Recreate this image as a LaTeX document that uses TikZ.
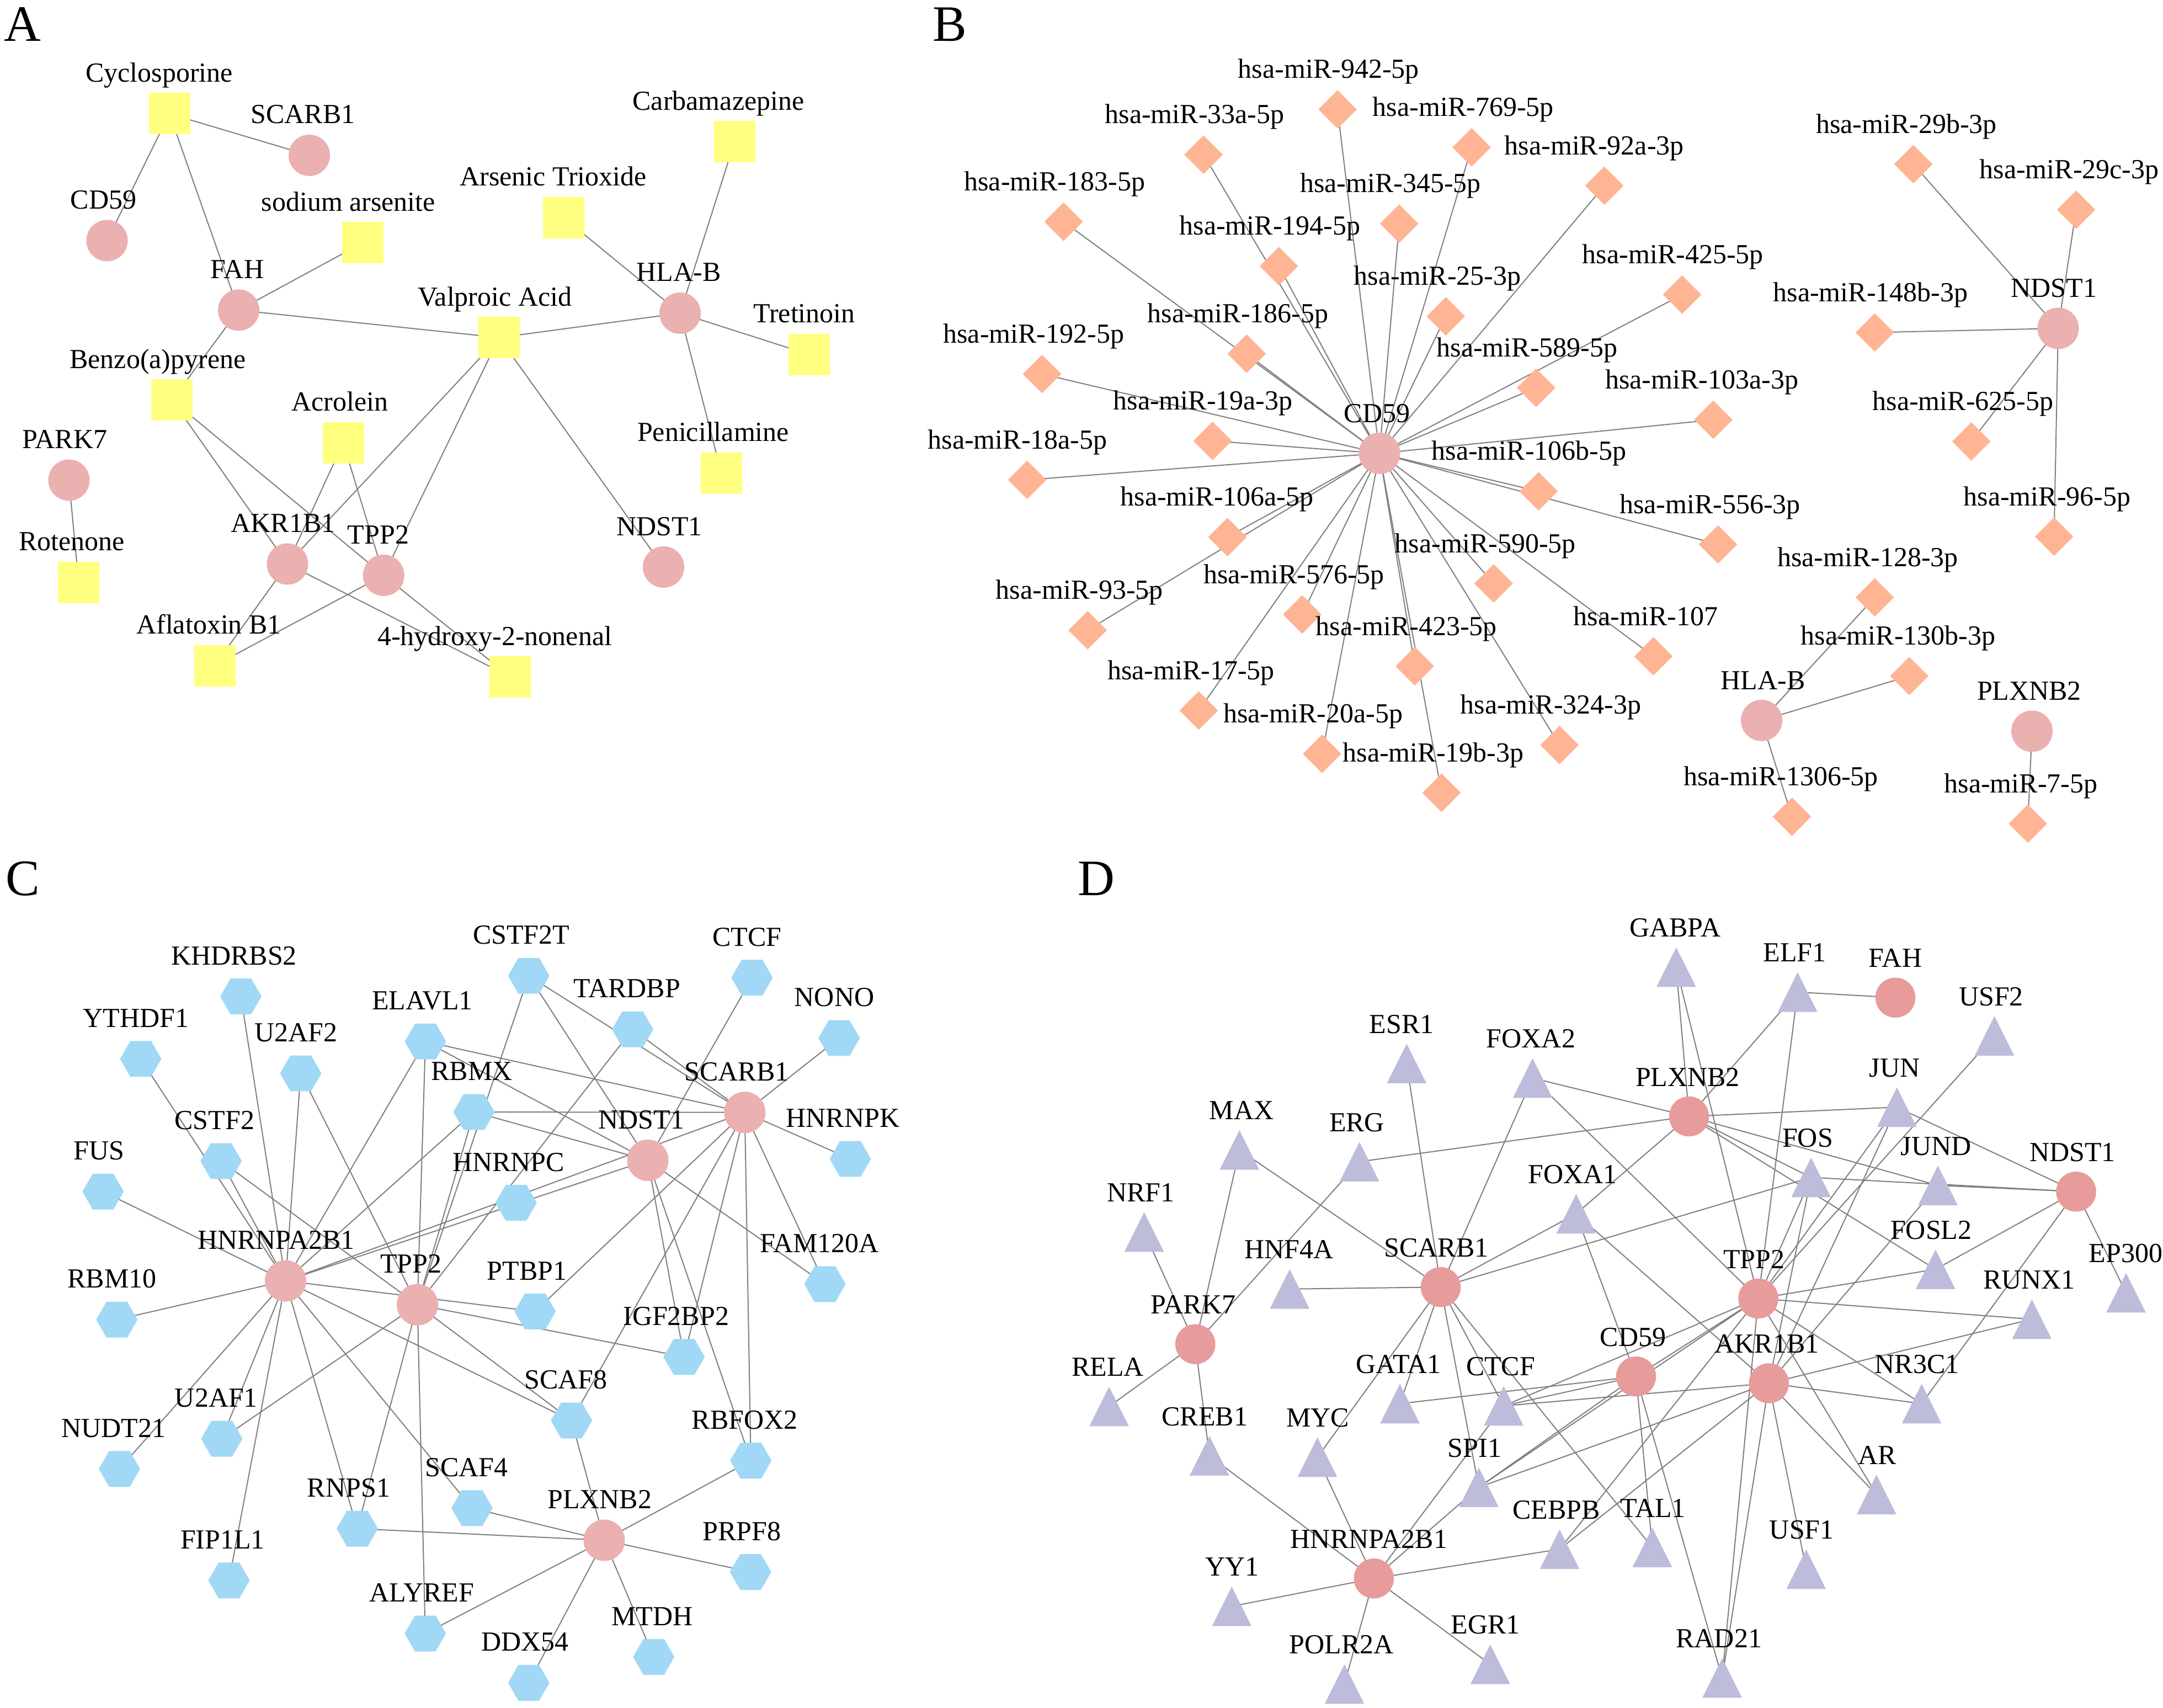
\documentclass[tikz,border=0pt]{standalone}
\usepackage{fontspec}
\setmainfont{Liberation Serif}
\usetikzlibrary{shapes.geometric}
\pgfdeclarelayer{bg}
\pgfdeclarelayer{fg}
\pgfsetlayers{bg,main,fg}
\definecolor{yel}{RGB}{255,255,128}
\definecolor{pk}{RGB}{235,176,176}
\definecolor{sal}{RGB}{255,180,148}
\definecolor{blu}{RGB}{160,216,245}
\definecolor{lav}{RGB}{190,188,219}
\definecolor{pkd}{RGB}{232,155,155}
\definecolor{edg}{RGB}{128,128,128}
\newcommand{\mk}[6]{\node[#1] (#2) at (#3,#4) {};
  \begin{pgfonlayer}{fg}\node[lab] (#2-l) at (#5,#4-\labdy) {#6};\end{pgfonlayer}}
\begin{document}
\begin{tikzpicture}[x=1pt,y=-1pt,
  edge/.style={draw=edg,line width=0.8pt},
  lab/.style={font=\fontsize{20}{24}\selectfont,inner sep=0pt,anchor=base},
  letter/.style={font=\fontsize{37}{40}\selectfont,inner sep=0pt,anchor=base west},
  sq/.style={rectangle,fill=yel,minimum size=30pt,inner sep=0pt},
  ca/.style={circle,fill=pk,minimum size=30pt,inner sep=0pt},
  cd/.style={circle,fill=pkd,minimum size=29pt,inner sep=0pt},
  dm/.style={diamond,fill=sal,minimum width=28pt,minimum height=28pt,inner sep=0pt},
  hx/.style={regular polygon,regular polygon sides=6,fill=blu,minimum size=30pt,inner sep=0pt},
  tn/.style={shape=coordinate}]
\useasboundingbox (0,0) rectangle (1568,1238);
\begin{pgfonlayer}{bg}\fill[white] (0,0) rectangle (1568,1238);\end{pgfonlayer}

% ---------- letters
\node[letter] (LA) at (3,30) {A};
\node[letter] (LB) at (676,30) {B};
\node[letter] (LC) at (4,649) {C};
\node[letter] (LD) at (781,649) {D};

% ---------- Panel A
\def\labdy{23}
\mk{sq}{aCyc}{122.8}{82.4}{115.4}{Cyclosporine}
\mk{ca}{aSCARB1}{224.2}{112.6}{219.6}{SCARB1}
\mk{ca}{aCD59}{77.6}{174.4}{75}{CD59}
\mk{ca}{aFAH}{173}{224.8}{172}{FAH}
\mk{sq}{aNaAs}{263}{176}{252.5}{sodium arsenite}
\mk{sq}{aBaP}{124.7}{290}{114.4}{Benzo(a)pyrene}
\mk{ca}{aPARK7}{50}{348}{47}{PARK7}
\mk{sq}{aRot}{57}{422}{52}{Rotenone}
\mk{sq}{aAcr}{248.8}{321}{246.4}{Acrolein}
\mk{ca}{aAKR}{208.4}{408.8}{205.3}{AKR1B1}
\mk{ca}{aTPP2}{278.1}{417}{274.2}{TPP2}
\mk{sq}{aAfl}{155.6}{482.4}{151.4}{Aflatoxin B1}
\mk{sq}{aHNE}{369.9}{490.6}{358.7}{4-hydroxy-2-nonenal}
\mk{sq}{aVPA}{361.8}{244.7}{358.7}{Valproic Acid}
\mk{sq}{aAsO}{408.6}{157.7}{401}{Arsenic Trioxide}
\mk{sq}{aCBZ}{532.5}{102.7}{520.8}{Carbamazepine}
\mk{ca}{aHLAB}{493}{227}{492}{HLA-B}
\mk{sq}{aTret}{586.5}{256.9}{583}{Tretinoin}
\mk{sq}{aPen}{523}{343}{517}{Penicillamine}
\mk{ca}{aNDST1}{481}{411}{478}{NDST1}

\begin{pgfonlayer}{bg}
\foreach \a/\b in {aCyc/aSCARB1,aCyc/aCD59,aCyc/aFAH,aFAH/aNaAs,aFAH/aBaP,aFAH/aVPA,
  aBaP/aAKR,aBaP/aTPP2,aAcr/aAKR,aAcr/aTPP2,aVPA/aAKR,aVPA/aTPP2,aVPA/aNDST1,aVPA/aHLAB,
  aAKR/aAfl,aTPP2/aAfl,aAKR/aHNE,aTPP2/aHNE,aHLAB/aAsO,aHLAB/aCBZ,aHLAB/aTret,aHLAB/aPen,
  aPARK7/aRot}
  \draw[edge] (\a.center) -- (\b.center);
\end{pgfonlayer}

% ---------- Panel B
\def\labdy{22.5}
\mk{dm}{b942}{969.6}{79.3}{963.1}{hsa-miR-942-5p}
\mk{dm}{b33a}{872.5}{112.1}{866}{hsa-miR-33a-5p}
\mk{dm}{b769}{1066.8}{106.8}{1060.7}{hsa-miR-769-5p}
\mk{dm}{b92a}{1163}{134.6}{1155.7}{hsa-miR-92a-3p}
\mk{dm}{b183}{771}{160.7}{764.5}{hsa-miR-183-5p}
\mk{dm}{b345}{1014.3}{162.1}{1008}{hsa-miR-345-5p}
\mk{dm}{b194}{927.1}{192.9}{920.6}{hsa-miR-194-5p}
\mk{dm}{b25}{1048.1}{229.3}{1042}{hsa-miR-25-3p}
\mk{dm}{b425}{1219.4}{213.6}{1212.7}{hsa-miR-425-5p}
\mk{dm}{b186}{903.7}{256.4}{897.4}{hsa-miR-186-5p}
\mk{dm}{b192}{755.4}{271.1}{749.3}{hsa-miR-192-5p}
\mk{dm}{b589}{1113.6}{281.1}{1107}{hsa-miR-589-5p}
\mk{dm}{b103a}{1242}{304.3}{1233.7}{hsa-miR-103a-3p}
\mk{dm}{b19a}{879}{319.6}{872}{hsa-miR-19a-3p}
\mk{ca}{bCD59}{1000}{328.6}{998.2}{CD59}
\mk{dm}{b18a}{744.6}{347.8}{737.6}{hsa-miR-18a-5p}
\mk{dm}{b106b}{1115.3}{356.1}{1108.4}{hsa-miR-106b-5p}
\mk{dm}{b106a}{889.8}{389.3}{882.2}{hsa-miR-106a-5p}
\mk{dm}{b556}{1245.4}{394.6}{1239.6}{hsa-miR-556-3p}
\mk{dm}{b590}{1082.8}{422.9}{1076.7}{hsa-miR-590-5p}
\mk{dm}{b93}{788.4}{456.8}{782.5}{hsa-miR-93-5p}
\mk{dm}{b576}{944}{445.4}{938}{hsa-miR-576-5p}
\mk{dm}{b107}{1198.6}{475.7}{1193}{hsa-miR-107}
\mk{dm}{b423}{1025.6}{482.9}{1019.5}{hsa-miR-423-5p}
\mk{dm}{b17}{869}{515}{863.4}{hsa-miR-17-5p}
\mk{dm}{b324}{1130.5}{540}{1124.2}{hsa-miR-324-3p}
\mk{dm}{b20a}{958.4}{546.4}{951.8}{hsa-miR-20a-5p}
\mk{dm}{b19b}{1045}{574.6}{1039}{hsa-miR-19b-3p}
\mk{ca}{bHLAB}{1277}{522.2}{1278}{HLA-B}
\mk{dm}{b29b}{1387}{119}{1382}{hsa-miR-29b-3p}
\mk{dm}{b29c}{1505}{152}{1500}{hsa-miR-29c-3p}
\mk{dm}{b148b}{1359}{241}{1356}{hsa-miR-148b-3p}
\mk{ca}{bNDST1}{1492}{238}{1489}{NDST1}
\mk{dm}{b625}{1429}{320}{1423}{hsa-miR-625-5p}
\mk{dm}{b96}{1489}{389}{1484}{hsa-miR-96-5p}
\mk{dm}{b128}{1359}{433}{1354}{hsa-miR-128-3p}
\mk{dm}{b130b}{1384}{490}{1376}{hsa-miR-130b-3p}
\mk{ca}{bPLXNB2}{1473}{530}{1471}{PLXNB2}
\mk{dm}{b1306}{1299}{592}{1291}{hsa-miR-1306-5p}
\mk{dm}{b7}{1470}{597}{1465}{hsa-miR-7-5p}

\begin{pgfonlayer}{bg}
\foreach \m in {b942,b33a,b769,b92a,b183,b345,b194,b25,b425,b186,b192,b589,b103a,b19a,
  b18a,b106b,b106a,b556,b590,b93,b576,b107,b423,b17,b324,b20a,b19b}
  \draw[edge] (bCD59.center) -- (\m.center);
\foreach \m in {b29b,b29c,b148b,b625,b96}
  \draw[edge] (bNDST1.center) -- (\m.center);
\foreach \m in {b128,b130b,b1306}
  \draw[edge] (bHLAB.center) -- (\m.center);
\draw[edge] (bPLXNB2.center) -- (b7.center);
\end{pgfonlayer}

% ---------- Panel C
\def\labdy{23}
\mk{hx}{cKHD}{174.6}{722.2}{169.6}{KHDRBS2}
\mk{hx}{cYTH}{102}{767.5}{98.6}{YTHDF1}
\mk{hx}{cU2AF2}{218}{778}{214.6}{U2AF2}
\mk{hx}{cELAVL1}{308.4}{754.9}{306.2}{ELAVL1}
\mk{hx}{cRBMX}{343.6}{806}{342}{RBMX}
\mk{hx}{cCSTF2}{160.3}{841.6}{155.5}{CSTF2}
\mk{hx}{cFUS}{74.7}{863.7}{71.8}{FUS}
\mk{ca}{cHNRNPA}{207}{928.4}{200.2}{HNRNPA2B1}
\mk{ca}{cTPP2}{302.6}{945.7}{298}{TPP2}
\mk{hx}{cRBM10}{84.7}{956.5}{81.2}{RBM10}
\mk{hx}{cCSTF2T}{383.3}{707.3}{377.9}{CSTF2T}
\mk{hx}{cCTCF}{545.2}{708.6}{541.5}{CTCF}
\mk{hx}{cTARDBP}{458.6}{746.1}{454.5}{TARDBP}
\mk{hx}{cNONO}{608.3}{752.4}{604.8}{NONO}
\mk{ca}{cSCARB1}{539.9}{806.3}{534}{SCARB1}
\mk{ca}{cNDST1}{469.6}{841}{465}{NDST1}
\mk{hx}{cHNRNPK}{616.4}{840}{611}{HNRNPK}
\mk{hx}{cHNRNPC}{374.1}{871.8}{368.7}{HNRNPC}
\mk{hx}{cFAM}{598}{930.8}{594}{FAM120A}
\mk{hx}{cPTBP1}{387.9}{950.6}{382}{PTBP1}
\mk{hx}{cIGF}{495.9}{983.5}{490.1}{IGF2BP2}
\mk{hx}{cSCAF8}{414.3}{1029.6}{410.1}{SCAF8}
\mk{hx}{cRBFOX2}{544.3}{1058.7}{539.8}{RBFOX2}
\mk{hx}{cSCAF4}{342.2}{1093.1}{338.1}{SCAF4}
\mk{ca}{cPLXNB2}{438}{1116.4}{434.7}{PLXNB2}
\mk{hx}{cPRPF8}{544.1}{1139.4}{537.8}{PRPF8}
\mk{hx}{cALYREF}{308.3}{1184}{305.7}{ALYREF}
\mk{hx}{cMTDH}{473.9}{1201}{472.8}{MTDH}
\mk{hx}{cDDX54}{383.3}{1219.7}{380.6}{DDX54}
\mk{hx}{cU2AF1}{160.8}{1042.8}{156.8}{U2AF1}
\mk{hx}{cNUDT21}{86.6}{1064.7}{82.3}{NUDT21}
\mk{hx}{cRNPS1}{259}{1108}{252.8}{RNPS1}
\mk{hx}{cFIP1L1}{166}{1145.5}{161.4}{FIP1L1}

\begin{pgfonlayer}{bg}
\foreach \m in {cKHD,cYTH,cU2AF2,cELAVL1,cRBMX,cCSTF2,cFUS,cRBM10,cNUDT21,cU2AF1,cFIP1L1,
  cRNPS1,cSCAF4,cSCAF8,cPTBP1,cNDST1,cSCARB1}
  \draw[edge] (cHNRNPA.center) -- (\m.center);
\foreach \m in {cU2AF2,cELAVL1,cRBMX,cCSTF2T,cCSTF2,cTARDBP,cIGF,cSCAF8,cU2AF1,cRNPS1,cALYREF}
  \draw[edge] (cTPP2.center) -- (\m.center);
\foreach \m in {cCSTF2T,cRBMX,cELAVL1,cCTCF,cFAM,cIGF,cRBFOX2}
  \draw[edge] (cNDST1.center) -- (\m.center);
\foreach \m in {cELAVL1,cRBMX,cCSTF2T,cTARDBP,cNONO,cHNRNPK,cFAM,cRBFOX2,cIGF,cSCAF8,cPTBP1}
  \draw[edge] (cSCARB1.center) -- (\m.center);
\foreach \m in {cSCAF8,cSCAF4,cRNPS1,cALYREF,cDDX54,cMTDH,cPRPF8,cRBFOX2}
  \draw[edge] (cPLXNB2.center) -- (\m.center);
\end{pgfonlayer}

% ---------- Panel D
\def\labdy{22}
\mk{tn}{dGABPA}{1215.1}{701}{1214.3}{GABPA}
\mk{tn}{dELF1}{1303.1}{719.1}{1301}{ELF1}
\mk{cd}{dFAH}{1374}{723.1}{1374}{FAH}
\mk{tn}{dUSF2}{1445.8}{750.8}{1443.4}{USF2}
\mk{tn}{dESR1}{1019.7}{770.8}{1016}{ESR1}
\mk{tn}{dFOXA2}{1111}{781.4}{1109.8}{FOXA2}
\mk{cd}{dPLXNB2}{1224.4}{809.2}{1223.4}{PLXNB2}
\mk{tn}{dJUN}{1375.1}{802.5}{1373.5}{JUN}
\mk{tn}{dMAX}{898.5}{833.5}{900}{MAX}
\mk{tn}{dERG}{985.5}{842}{983.6}{ERG}
\mk{tn}{dFOS}{1312.9}{853.4}{1310.4}{FOS}
\mk{tn}{dJUND}{1404.8}{859.2}{1403.4}{JUND}
\mk{cd}{dNDST1}{1505}{863.7}{1502.3}{NDST1}
\mk{tn}{dNRF1}{829.4}{893}{826.9}{NRF1}
\mk{tn}{dFOXA1}{1142.5}{879.8}{1140}{FOXA1}
\mk{tn}{dFOSL2}{1403.1}{920}{1399.9}{FOSL2}
\mk{tn}{dHNF4A}{934.9}{934.3}{934.3}{HNF4A}
\mk{cd}{dSCARB1}{1044.4}{932.9}{1041.2}{SCARB1}
\mk{tn}{dEP300}{1541.2}{937}{1541}{EP300}
\mk{cd}{dTPP2}{1274.6}{941.2}{1271.5}{TPP2}
\mk{tn}{dRUNX1}{1472.9}{956.2}{1471}{RUNX1}
\mk{cd}{dPARK7}{866.5}{974.3}{865}{PARK7}
\mk{cd}{dCD59}{1186}{997.7}{1183.8}{CD59}
\mk{cd}{dAKR}{1282.3}{1002.6}{1280.8}{AKR1B1}
\mk{tn}{dRELA}{804}{1019.4}{803}{RELA}
\mk{tn}{dGATA1}{1014.8}{1017.4}{1013.9}{GATA1}
\mk{tn}{dCTCF}{1090}{1019}{1087.8}{CTCF}
\mk{tn}{dNR3C1}{1393}{1017.4}{1389.6}{NR3C1}
\mk{tn}{dCREB1}{876.7}{1055.2}{873.3}{CREB1}
\mk{tn}{dMYC}{955}{1056.2}{955.3}{MYC}
\mk{tn}{dSPI1}{1072}{1078}{1069}{SPI1}
\mk{tn}{dAR}{1360.3}{1083.3}{1360.8}{AR}
\mk{tn}{dCEBPB}{1130.6}{1122.9}{1128.2}{CEBPB}
\mk{tn}{dTAL1}{1197.8}{1121.6}{1198.3}{TAL1}
\mk{tn}{dUSF1}{1309.3}{1137.4}{1306.1}{USF1}
\mk{cd}{dHNRNPA}{995.9}{1144.1}{992.4}{HNRNPA2B1}
\mk{tn}{dYY1}{892.9}{1164.3}{893.3}{YY1}
\mk{tn}{dEGR1}{1080.3}{1206.3}{1076.8}{EGR1}
\mk{tn}{dRAD21}{1248.4}{1216.2}{1246.1}{RAD21}
\mk{tn}{dPOLR2A}{974.6}{1220.6}{972.4}{POLR2A}

\foreach \n in {dGABPA,dELF1,dUSF2,dESR1,dFOXA2,dJUN,dMAX,dERG,dFOS,dJUND,dNRF1,dFOXA1,
  dFOSL2,dHNF4A,dEP300,dRUNX1,dRELA,dGATA1,dCTCF,dNR3C1,dCREB1,dMYC,dSPI1,dAR,dCEBPB,
  dTAL1,dUSF1,dYY1,dEGR1,dRAD21,dPOLR2A}
  \fill[lav] (\n) ++(-14.3,14.3) -- ++(28.6,0) -- ++(-14.3,-28.6) -- cycle;

\begin{pgfonlayer}{bg}
\foreach \m in {dNRF1,dMAX,dERG,dRELA,dCREB1}
  \draw[edge] (dPARK7.center) -- (\m.center);
\foreach \m in {dESR1,dFOXA2,dMAX,dHNF4A,dFOXA1,dFOS,dGATA1,dMYC,dSPI1,dCTCF,dTAL1}
  \draw[edge] (dSCARB1.center) -- (\m.center);
\foreach \m in {dFOXA2,dERG,dGABPA,dELF1,dJUN,dFOS,dJUND,dFOSL2,dFOXA1}
  \draw[edge] (dPLXNB2.center) -- (\m.center);
\draw[edge] (dFAH.center) -- (dELF1.center);
\foreach \m in {dJUN,dFOS,dJUND,dFOSL2,dEP300,dNR3C1}
  \draw[edge] (dNDST1.center) -- (\m.center);
\foreach \m in {dGABPA,dELF1,dFOXA2,dJUN,dFOS,dFOSL2,dRUNX1,dCD59,dCTCF,dSPI1,dCEBPB,
  dRAD21,dAR,dNR3C1,dUSF2}
  \draw[edge] (dTPP2.center) -- (\m.center);
\foreach \m in {dFOXA1,dGATA1,dCTCF,dSPI1,dTAL1,dRAD21}
  \draw[edge] (dCD59.center) -- (\m.center);
\foreach \m in {dFOXA1,dJUN,dFOS,dJUND,dRUNX1,dNR3C1,dAR,dUSF1,dRAD21,dCEBPB,dSPI1,dCTCF}
  \draw[edge] (dAKR.center) -- (\m.center);
\foreach \m in {dCREB1,dMYC,dCTCF,dSPI1,dCEBPB,dYY1,dPOLR2A,dEGR1}
  \draw[edge] (dHNRNPA.center) -- (\m.center);
\end{pgfonlayer}
\end{tikzpicture}
\end{document}
